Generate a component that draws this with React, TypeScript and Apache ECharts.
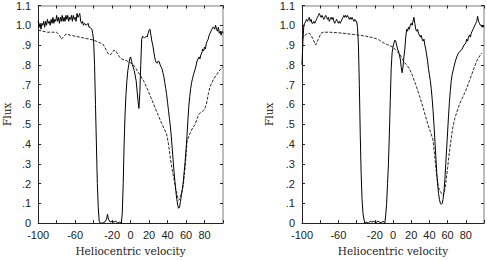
import React, { useEffect, useRef } from "react";
import * as echarts from "echarts";

// [heliocentric velocity, flux]
const leftSolid: number[][] = [
  [-100, 1.02], [-99, 0.99], [-98, 1.01], [-97, 0.98], [-96, 1.01], [-95, 1.0], [-94, 1.02], [-93, 0.99],
  [-92, 1.02], [-91, 1.0], [-90, 1.03], [-89, 1.01], [-88, 1.02], [-87, 1.0], [-86, 1.03], [-85, 1.01],
  [-84, 1.04], [-83, 1.01], [-82, 1.03], [-81, 1.02], [-80, 1.05], [-79, 1.02], [-78, 1.04], [-77, 1.01],
  [-76, 1.04], [-75, 1.02], [-74, 1.05], [-73, 1.02], [-72, 1.04], [-71, 1.02], [-70, 1.05], [-69, 1.03],
  [-68, 1.05], [-67, 1.02], [-66, 1.04], [-65, 1.03], [-64, 1.05], [-63, 1.02], [-62, 1.05], [-61, 1.03],
  [-60, 1.04], [-59, 1.02], [-58, 1.06], [-57, 1.04], [-56, 1.05], [-55, 1.06], [-54, 1.02], [-53, 1.01],
  [-52, 1.02], [-51, 1.0], [-50, 1.01], [-48, 1.0], [-46, 1.01], [-45, 0.99], [-44, 0.99], [-42, 0.98],
  [-41, 0.96], [-40, 0.92], [-39, 0.8], [-38, 0.6], [-37, 0.4], [-36, 0.2], [-35, 0.08], [-34, 0.01],
  [-33, 0], [-30, 0], [-28, 0.005], [-26, 0.02], [-25, 0.045], [-24, 0.02], [-22, 0.005], [-20, 0.01],
  [-18, 0.005], [-16, 0.01], [-14, 0], [-12, 0.005], [-10, 0], [-9, 0.05], [-8, 0.2], [-7, 0.4],
  [-6, 0.55], [-5, 0.65], [-4, 0.72], [-3, 0.77], [-2, 0.8], [-1, 0.83], [0, 0.84], [1, 0.82],
  [2, 0.8], [4, 0.77], [6, 0.72], [8, 0.62], [9, 0.58], [10, 0.66], [11, 0.8], [12, 0.93],
  [13, 0.945], [14, 0.94], [15, 0.935], [16, 0.94], [17, 0.945], [18, 0.94], [19, 0.96], [20, 0.975],
  [21, 0.98], [22, 0.95], [23, 0.92], [24, 0.9], [25, 0.87], [26, 0.84], [27, 0.82], [28, 0.81],
  [29, 0.81], [30, 0.82], [31, 0.815], [32, 0.8], [33, 0.79], [34, 0.78], [35, 0.76], [36, 0.74],
  [37, 0.71], [38, 0.68], [39, 0.65], [40, 0.61], [41, 0.57], [42, 0.53], [43, 0.49], [44, 0.44],
  [45, 0.38], [46, 0.32], [47, 0.26], [48, 0.21], [49, 0.16], [50, 0.12], [51, 0.09], [52, 0.075],
  [53, 0.08], [54, 0.11], [55, 0.14], [56, 0.17], [57, 0.21], [58, 0.26], [59, 0.31], [60, 0.37],
  [61, 0.44], [62, 0.52], [63, 0.59], [64, 0.64], [65, 0.68], [66, 0.71], [67, 0.73], [68, 0.75],
  [70, 0.78], [72, 0.82], [73, 0.83], [74, 0.84], [75, 0.83], [76, 0.85], [77, 0.86], [78, 0.88],
  [79, 0.87], [80, 0.89], [81, 0.88], [82, 0.91], [83, 0.92], [84, 0.93], [85, 0.95], [86, 0.96],
  [87, 0.97], [88, 0.98], [89, 0.99], [90, 0.99], [91, 0.98], [92, 1.0], [93, 0.98], [94, 0.97],
  [95, 0.99], [96, 0.96], [97, 0.97], [98, 0.95], [99, 0.97], [100, 0.96],
];

const leftDashed: number[][] = [
  [-100, 0.975], [-95, 0.97], [-90, 0.965], [-85, 0.965], [-80, 0.965], [-77, 0.95], [-75, 0.93],
  [-72, 0.945], [-70, 0.955], [-65, 0.95], [-60, 0.945], [-55, 0.94], [-50, 0.935], [-45, 0.93],
  [-40, 0.925], [-35, 0.915], [-30, 0.905], [-28, 0.89], [-26, 0.87], [-24, 0.855], [-22, 0.85],
  [-20, 0.86], [-18, 0.875], [-16, 0.87], [-14, 0.855], [-12, 0.84], [-10, 0.83], [-7, 0.825],
  [-4, 0.82], [0, 0.81], [3, 0.8], [6, 0.78], [8, 0.765], [10, 0.75], [14, 0.72], [18, 0.68],
  [22, 0.635], [25, 0.6], [29, 0.555], [33, 0.51], [36, 0.48], [39, 0.45], [41, 0.4], [43, 0.33],
  [45, 0.27], [47, 0.22], [49, 0.17], [51, 0.13], [52, 0.115], [53, 0.12], [55, 0.15], [57, 0.19],
  [59, 0.28], [61, 0.41], [63, 0.44], [65, 0.46], [67, 0.48], [70, 0.5], [72, 0.53], [74, 0.55],
  [76, 0.56], [78, 0.565], [80, 0.575], [82, 0.6], [84, 0.65], [86, 0.69], [88, 0.71], [90, 0.73],
  [93, 0.75], [96, 0.77], [100, 0.79],
];

const rightSolid: number[][] = [
  [-100, 0.8], [-99, 0.92], [-98, 1.0], [-97, 1.01], [-96, 1.02], [-95, 1.03], [-94, 1.02], [-93, 1.03],
  [-92, 1.04], [-91, 1.02], [-90, 1.03], [-89, 1.01], [-88, 1.01], [-87, 1.02], [-86, 1.01], [-85, 1.02],
  [-84, 1.03], [-83, 1.04], [-82, 1.05], [-81, 1.06], [-80, 1.05], [-79, 1.04], [-78, 1.05], [-77, 1.04],
  [-76, 1.03], [-75, 1.04], [-74, 1.05], [-73, 1.04], [-72, 1.03], [-71, 1.04], [-70, 1.02], [-69, 1.03],
  [-68, 1.04], [-67, 1.03], [-66, 1.04], [-65, 1.02], [-64, 1.01], [-63, 1.02], [-62, 1.03], [-61, 1.02],
  [-60, 1.01], [-59, 1.02], [-58, 1.01], [-57, 1.02], [-56, 1.03], [-55, 1.04], [-54, 1.05], [-53, 1.04],
  [-52, 1.05], [-51, 1.04], [-50, 1.05], [-49, 1.04], [-48, 1.03], [-47, 1.04], [-46, 1.03], [-45, 1.04],
  [-44, 1.03], [-43, 1.02], [-42, 1.03], [-41, 1.02], [-40, 1.02], [-39, 0.99], [-38, 0.9], [-37, 0.7],
  [-36, 0.45], [-35, 0.25], [-34, 0.12], [-33, 0.05], [-32, 0.02], [-31, 0], [-29, 0.005], [-27, 0],
  [-25, 0.01], [-23, 0.005], [-21, 0.01], [-19, 0], [-17, 0.01], [-15, 0.005], [-13, 0], [-11, 0.01],
  [-9, 0], [-8, 0.04], [-7, 0.1], [-6, 0.2], [-5, 0.3], [-4, 0.45], [-3, 0.62], [-2, 0.78],
  [-1, 0.86], [0, 0.89], [1, 0.91], [2, 0.925], [3, 0.92], [4, 0.9], [5, 0.88], [6, 0.87],
  [7, 0.85], [8, 0.83], [9, 0.79], [10, 0.76], [11, 0.79], [12, 0.84], [13, 0.88], [14, 0.94],
  [15, 0.98], [16, 0.97], [17, 0.99], [18, 0.98], [19, 1.0], [20, 1.01], [21, 1.0], [22, 1.02],
  [23, 1.04], [24, 1.01], [25, 0.98], [26, 0.97], [27, 0.98], [28, 0.96], [29, 0.95], [30, 0.94],
  [31, 0.95], [32, 0.93], [33, 0.92], [34, 0.93], [35, 0.9], [36, 0.88], [37, 0.85], [38, 0.82],
  [39, 0.78], [40, 0.75], [41, 0.72], [42, 0.68], [43, 0.63], [44, 0.57], [45, 0.5], [46, 0.42],
  [47, 0.34], [48, 0.26], [49, 0.2], [50, 0.15], [51, 0.12], [52, 0.1], [53, 0.095], [54, 0.1],
  [55, 0.12], [56, 0.16], [57, 0.22], [58, 0.3], [59, 0.38], [60, 0.46], [61, 0.54], [62, 0.61],
  [63, 0.67], [64, 0.72], [65, 0.75], [66, 0.77], [67, 0.79], [68, 0.81], [70, 0.84], [72, 0.86],
  [74, 0.87], [76, 0.88], [78, 0.9], [80, 0.91], [81, 0.93], [82, 0.92], [83, 0.94], [84, 0.95],
  [85, 0.94], [86, 0.96], [87, 0.97], [88, 0.98], [89, 0.99], [90, 1.0], [91, 1.01], [92, 1.02],
  [93, 1.045], [94, 1.02], [95, 1.01], [96, 1.0], [97, 1.0], [98, 0.99], [99, 1.0], [100, 0.99],
];

const rightDashed: number[][] = [
  [-100, 0.93], [-98, 0.945], [-95, 0.955], [-92, 0.96], [-90, 0.95], [-88, 0.93], [-86, 0.91],
  [-85, 0.9], [-83, 0.92], [-81, 0.94], [-79, 0.96], [-77, 0.965], [-70, 0.965], [-60, 0.962],
  [-50, 0.957], [-40, 0.952], [-30, 0.945], [-25, 0.94], [-20, 0.935], [-15, 0.925], [-10, 0.91],
  [-5, 0.9], [0, 0.89], [5, 0.865], [8, 0.85], [10, 0.83], [13, 0.81], [15, 0.8], [18, 0.78],
  [21, 0.75], [25, 0.7], [29, 0.645], [33, 0.585], [37, 0.52], [40, 0.475], [42, 0.45], [44, 0.42],
  [46, 0.33], [48, 0.24], [50, 0.18], [52, 0.16], [54, 0.145], [55, 0.14], [56, 0.15], [57, 0.17],
  [58, 0.2], [60, 0.28], [62, 0.36], [64, 0.43], [66, 0.49], [68, 0.53], [70, 0.56], [73, 0.6],
  [76, 0.63], [80, 0.67], [84, 0.72], [88, 0.77], [92, 0.82], [96, 0.85], [97.5, 0.86],
];

const xLabelValues = [-100, -60, -20, 0, 20, 40, 60, 80];
const xAxisTitle = "Heliocentric velocity";
const yAxisTitle = "Flux";

const TICK_FONT = "Liberation Sans";
const NAME_FONT = "DejaVu Serif";
const DARK = "#222";
const FRAME_LIGHT = "#a8a8a8";

function yLabel(v: number): string {
  const r = Math.round(v * 10) / 10;
  if (r === 0) return "0";
  if (r >= 1) return r.toFixed(1);
  return "." + Math.round(r * 10);
}

function xLabel(v: number): string {
  return xLabelValues.includes(Math.round(v)) ? String(Math.round(v)) : "";
}

export default function App() {
  const ref = useRef<HTMLDivElement>(null);
  useEffect(() => {
    if (!ref.current) return;
    const chart = echarts.init(ref.current, undefined, { renderer: "svg" });

    const grids = [
      { left: 37, top: 3, width: 186, height: 230 },
      { left: 302, top: 3, width: 183, height: 230 },
    ];

    const xAxes: any[] = [];
    const yAxes: any[] = [];
    grids.forEach((_, gi) => {
      xAxes.push({
        type: "value", gridIndex: gi, position: "bottom", min: -100, max: 100, interval: 20,
        axisLine: { show: true, onZero: false, lineStyle: { color: DARK, width: 1 } },
        axisTick: { show: true, inside: true, length: 3, lineStyle: { color: DARK } },
        axisLabel: { show: true, formatter: xLabel, color: DARK, fontFamily: TICK_FONT, fontSize: 11, margin: 6, showMaxLabel: true, showMinLabel: true },
        splitLine: { show: false },
        name: xAxisTitle, nameLocation: "middle", nameGap: 20,
        nameTextStyle: { color: DARK, fontFamily: NAME_FONT, fontSize: 10.5 },
      });
      xAxes.push({
        type: "value", gridIndex: gi, position: "top", min: -100, max: 100, interval: 20,
        axisLine: { show: true, onZero: false, lineStyle: { color: FRAME_LIGHT, width: 1.5 } },
        axisTick: { show: true, inside: true, length: 3, lineStyle: { color: DARK } },
        axisLabel: { show: false },
        splitLine: { show: false },
      });
      yAxes.push({
        type: "value", gridIndex: gi, position: "left", min: 0, max: 1.1, interval: 0.1,
        axisLine: { show: true, onZero: false, lineStyle: { color: DARK, width: 1 } },
        axisTick: { show: true, inside: true, length: 3, lineStyle: { color: DARK } },
        axisLabel: { show: true, formatter: yLabel, color: DARK, fontFamily: TICK_FONT, fontSize: 11, margin: 7 },
        splitLine: { show: false },
        name: yAxisTitle, nameLocation: "middle", nameGap: gi === 0 ? 16 : 28,
        nameTextStyle: { color: DARK, fontFamily: NAME_FONT, fontSize: 10.5 },
      });
      yAxes.push({
        type: "value", gridIndex: gi, position: "right", min: 0, max: 1.1, interval: 0.1,
        axisLine: { show: true, onZero: false, lineStyle: { color: FRAME_LIGHT, width: 1.5 } },
        axisTick: { show: true, inside: true, length: 3, lineStyle: { color: DARK } },
        axisLabel: { show: false },
        splitLine: { show: false },
      });
    });

    const lineSeries = (data: number[][], gi: number, dashed: boolean) => ({
      type: "line",
      xAxisIndex: gi * 2,
      yAxisIndex: gi * 2,
      data,
      symbol: "none",
      showSymbol: false,
      lineStyle: dashed
        ? { color: "#111", width: 0.9, type: [3, 1.5] }
        : { color: "#000", width: 1 },
      z: dashed ? 2 : 3,
    });

    chart.setOption({
      animation: false,
      backgroundColor: "#fff",
      grid: grids,
      xAxis: xAxes,
      yAxis: yAxes,
      series: [
        lineSeries(leftSolid, 0, false),
        lineSeries(leftDashed, 0, true),
        lineSeries(rightSolid, 1, false),
        lineSeries(rightDashed, 1, true),
      ],
    });
    return () => chart.dispose();
  }, []);
  return (
    <div
      ref={ref}
      style={{ position: "fixed", left: 0, top: 0, width: 487, height: 261, background: "#fff" }}
    />
  );
}
